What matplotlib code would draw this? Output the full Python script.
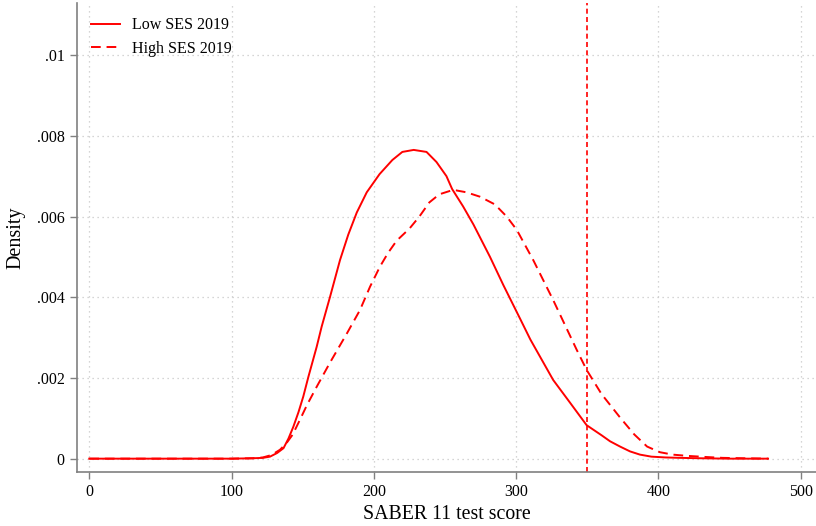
import numpy as np
import matplotlib.pyplot as plt

# valores (densidade kernel aproximada)
score_low = [0, 50, 100, 115, 122, 127, 132, 136.5, 140, 143.4, 147, 150.4, 154, 159.8, 163.3, 169.2,
             176.2, 182, 188, 195, 204, 213, 220, 228, 237, 244, 251, 255, 262.7, 270, 281.6,
             291, 303, 310, 326, 338, 349.5, 360, 366, 373, 380, 387, 395, 405, 415, 429, 450, 477]
dens_low = [0, 0, 0, 0.00001, 0.00002, 0.00005, 0.00014, 0.00026, 0.0005, 0.00079, 0.00115, 0.00154,
            0.00203, 0.00277, 0.00327, 0.00401, 0.00492, 0.00555, 0.0061, 0.0066, 0.00705, 0.0074,
            0.0076, 0.00765, 0.0076, 0.00735, 0.0070, 0.00668, 0.00625, 0.0058, 0.005, 0.0043,
            0.00345, 0.00295, 0.00195, 0.00138, 0.00083, 0.00058, 0.00043, 0.0003, 0.00018, 0.0001,
            0.00005, 0.00003, 0.00002, 0.00001, 0, 0]

score_high = [0, 50, 100, 115, 122, 128, 134, 138.7, 143, 148, 153, 159.8, 169, 181, 190.2, 197.3,
              204.3, 210, 216, 225, 232, 239, 246, 255.8, 265, 274.6, 285, 293.3, 300.4, 312, 326,
              342.5, 349.5, 360, 373, 383, 392, 401, 410, 420, 434, 445, 460, 477]
dens_high = [0, 0, 0, 0.00001, 0.00003, 0.00009, 0.00022, 0.00039, 0.0006, 0.00096, 0.00133, 0.00178,
             0.00237, 0.0031, 0.00368, 0.00426, 0.00476, 0.0051, 0.0054, 0.0057, 0.006, 0.00635,
             0.00655, 0.00666, 0.0066, 0.00649, 0.0063, 0.006, 0.00567, 0.00492, 0.00393, 0.0027,
             0.0022, 0.0016, 0.00102, 0.0006, 0.0003, 0.00016, 0.0001, 0.00007, 0.00004, 0.00002,
             0.00001, 0]

corte = 350
xticks = [0, 100, 200, 300, 400, 500]
yticks = [0, 0.002, 0.004, 0.006, 0.008, 0.01]
ylabels = ['0', '.002', '.004', '.006', '.008', '.01']

plt.rcParams['font.family'] = ['Liberation Serif', 'DejaVu Serif']
fig = plt.figure(figsize=(8.16, 5.26), dpi=100)
ax = fig.add_axes([0.0944, 0.1027, 0.9056, 0.8916])

ax.plot(score_low, dens_low, color='red', lw=1.4, label='Low SES 2019')
ax.plot(score_high, dens_high, color='red', lw=1.4, ls=(0, (5, 3)), label='High SES 2019')
ax.axvline(corte, color='red', lw=1.2, ls=(0, (3, 2)))

ax.set_xlim(-8.6, 510.7)
ax.set_ylim(-0.00033, 0.01129)
ax.set_xticks(xticks)
ax.set_yticks(yticks)
ax.set_yticklabels(ylabels)
ax.grid(True, color='#c8c8c8', ls=(0, (1, 3)), lw=0.9)
ax.set_axisbelow(True)
for s in ['top', 'right']:
    ax.spines[s].set_visible(False)
for s in ['left', 'bottom']:
    ax.spines[s].set_color('#808080')
    ax.spines[s].set_linewidth(1.2)
ax.tick_params(colors='#808080', labelcolor='black', length=5, width=1, labelsize=11.5, pad=4)

ax.set_xlabel('SABER 11 test score', fontsize=14.3, labelpad=3)
ax.set_ylabel('Density', fontsize=14.5, labelpad=8)

ax.legend(loc='upper left', frameon=False, fontsize=11.5, handlelength=1.8, handletextpad=0.75,
          labelspacing=0.45, borderaxespad=0.5, bbox_to_anchor=(0.0, 1.0))

fig.savefig('out.png', dpi=100)
